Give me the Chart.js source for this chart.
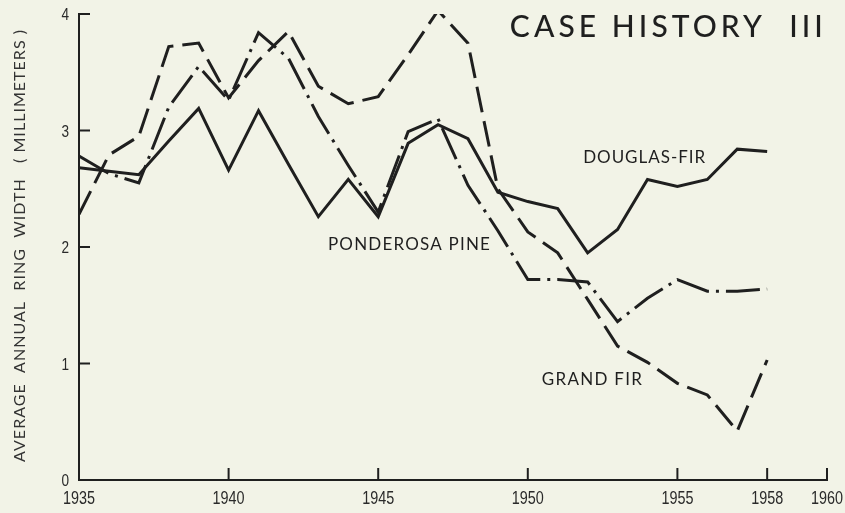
<!DOCTYPE html>
<html>
<head>
<meta charset="utf-8">
<script src="https://cdn.jsdelivr.net/npm/chart.js@4.4.1/dist/chart.umd.min.js"></script>
<style>
  html, body { margin: 0; padding: 0; background: #f2f3e7; }
  canvas { display: block; }
</style>
</head>
<body>
<canvas id="ringChart" width="845" height="513"></canvas>
<script>
// Ring width data, one value per year
const years = [1935, 1936, 1937, 1938, 1939, 1940, 1941, 1942, 1943, 1944, 1945, 1946,
               1947, 1948, 1949, 1950, 1951, 1952, 1953, 1954, 1955, 1956, 1957, 1958];
const douglasFir = [2.68, 2.65, 2.62, 2.91, 3.19, 2.66, 3.17, 2.71, 2.26, 2.58, 2.26, 2.89,
                    3.05, 2.93, 2.47, 2.39, 2.33, 1.95, 2.15, 2.58, 2.52, 2.58, 2.84, 2.82];
const ponderosaPine = [2.78, 2.63, 2.55, 3.20, 3.55, 3.26, 3.84, 3.62, 3.12, 2.70, 2.30, 2.99,
                       3.10, 2.53, 2.14, 1.72, 1.72, 1.70, 1.36, 1.56, 1.72, 1.62, 1.62, 1.64];
const grandFir = [2.28, 2.79, 2.95, 3.72, 3.75, 3.28, 3.60, 3.85, 3.38, 3.23, 3.29, 3.65,
                  4.03, 3.75, 2.50, 2.13, 1.95, 1.55, 1.15, 1.01, 0.83, 0.73, 0.42, 1.03];
const xTicks = [1935, 1940, 1945, 1950, 1955, 1958, 1960];
const yTicks = [0, 1, 2, 3, 4];

const ink = '#1f1f1f';
const paper = '#f2f3e7';
const labelFont = 'Lato, "DejaVu Sans", sans-serif';
const numFont = '"Liberation Sans", Arial, sans-serif';

function toPoints(vals) {
  return years.map((yr, i) => ({ x: yr, y: vals[i] }));
}

// draw text stretched to a given width with letter spacing
function drawSpaced(ctx, text, x, y, width, font) {
  ctx.font = font;
  ctx.letterSpacing = '0px';
  const w = ctx.measureText(text).width;
  const sp = text.length > 1 ? (width - w) / (text.length - 1) : 0;
  ctx.letterSpacing = sp + 'px';
  ctx.fillText(text, x, y);
  ctx.letterSpacing = '0px';
}

// condensed numerals (squeezed horizontally like the original's lettering)
function drawNarrow(ctx, text, x, y, align) {
  ctx.save();
  ctx.translate(x, y);
  ctx.scale(0.8, 1);
  ctx.textAlign = align;
  ctx.fillText(text, 0, 0);
  ctx.restore();
}

const decor = {
  id: 'decor',
  beforeDraw(chart) {
    const ctx = chart.ctx;
    ctx.save();
    ctx.fillStyle = paper;
    ctx.fillRect(0, 0, chart.width, chart.height);
    ctx.restore();
  },
  afterDraw(chart) {
    const ctx = chart.ctx;
    const xs = chart.scales.x, ys = chart.scales.y;
    const area = chart.chartArea;
    ctx.save();
    ctx.strokeStyle = ink;
    ctx.fillStyle = ink;
    ctx.lineWidth = 2;

    // inward tick marks
    yTicks.slice(1).forEach(v => {
      const py = ys.getPixelForValue(v);
      ctx.beginPath();
      ctx.moveTo(area.left, py);
      ctx.lineTo(area.left + 11, py);
      ctx.stroke();
    });
    xTicks.slice(1).forEach(v => {
      const px = xs.getPixelForValue(v);
      ctx.beginPath();
      ctx.moveTo(px, area.bottom);
      ctx.lineTo(px, area.bottom - 12);
      ctx.stroke();
    });

    // tick labels
    ctx.fillStyle = '#2a2a2a';
    ctx.textBaseline = 'alphabetic';
    ctx.font = '18px ' + numFont;
    xTicks.forEach(v => drawNarrow(ctx, String(v), xs.getPixelForValue(v), area.bottom + 24, 'center'));
    ctx.font = '17px ' + numFont;
    yTicks.forEach(v => drawNarrow(ctx, String(v), area.left - 10, ys.getPixelForValue(v) + 6, 'right'));

    // title and series labels, anchored in data units
    ctx.fillStyle = ink;
    ctx.textAlign = 'left';
    drawSpaced(ctx, 'CASE HISTORY  III', xs.getPixelForValue(1949.4), ys.getPixelForValue(3.8),
               313, '500 30px ' + labelFont);
    drawSpaced(ctx, 'DOUGLAS-FIR', xs.getPixelForValue(1951.85), ys.getPixelForValue(2.72),
               122, '17px ' + labelFont);
    drawSpaced(ctx, 'PONDEROSA PINE', xs.getPixelForValue(1943.32), ys.getPixelForValue(1.97),
               162, '17px ' + labelFont);
    drawSpaced(ctx, 'GRAND FIR', xs.getPixelForValue(1950.47), ys.getPixelForValue(0.815),
               100, '17px ' + labelFont);

    // rotated y axis title
    ctx.translate(25, 462);
    ctx.rotate(-Math.PI / 2);
    ctx.fillStyle = '#333';
    drawSpaced(ctx, 'AVERAGE  ANNUAL  RING  WIDTH   ( MILLIMETERS )', 0, 0, 432, '16px ' + labelFont);
    ctx.restore();
  }
};

const lineStyle = {
  borderColor: ink,
  borderWidth: 3,
  pointRadius: 0,
  tension: 0,
  fill: false,
  borderCapStyle: 'butt',
  borderJoinStyle: 'miter'
};

new Chart(document.getElementById('ringChart'), {
  type: 'line',
  data: {
    datasets: [
      Object.assign({ label: 'Douglas-fir', data: toPoints(douglasFir) }, lineStyle),
      Object.assign({ label: 'Ponderosa pine', data: toPoints(ponderosaPine), borderDash: [34, 7, 3, 7] }, lineStyle),
      Object.assign({ label: 'Grand fir', data: toPoints(grandFir), borderDash: [26, 9] }, lineStyle)
    ]
  },
  options: {
    responsive: false,
    animation: false,
    layout: { padding: { left: 0, right: 18, top: 14, bottom: 0 } },
    plugins: { legend: { display: false }, tooltip: { enabled: false } },
    scales: {
      x: {
        type: 'linear',
        min: 1935,
        max: 1960,
        afterBuildTicks: scale => { scale.ticks = xTicks.map(v => ({ value: v })); },
        afterFit: scale => {
          scale.height = 33;
          scale.paddingLeft = 0;
          scale.paddingRight = 0;
        },
        grid: { display: false, drawTicks: false },
        border: { display: true, color: ink, width: 2 },
        ticks: { display: false }
      },
      y: {
        min: 0,
        max: 4,
        afterBuildTicks: scale => { scale.ticks = yTicks.map(v => ({ value: v })); },
        afterFit: scale => {
          scale.width = 79;
          scale.paddingTop = 0;
          scale.paddingBottom = 0;
        },
        grid: { display: false, drawTicks: false },
        border: { display: true, color: ink, width: 2 },
        ticks: { display: false }
      }
    }
  },
  plugins: [decor]
});
</script>
</body>
</html>
